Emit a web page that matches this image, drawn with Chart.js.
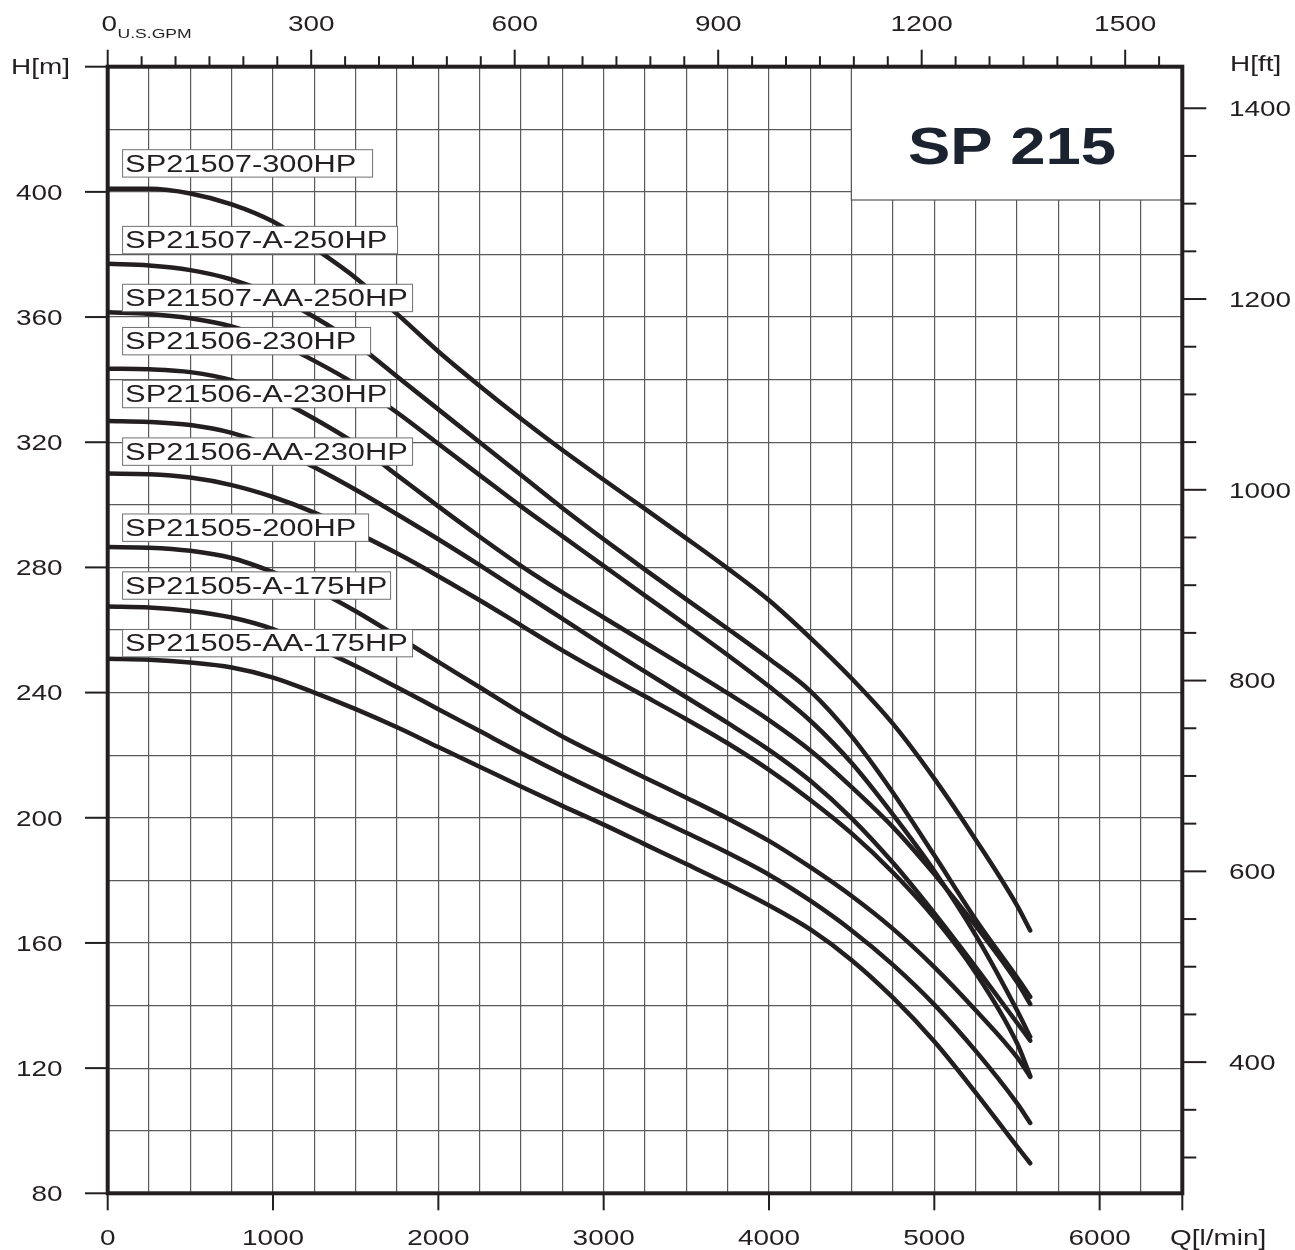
<!DOCTYPE html>
<html>
<head>
<meta charset="utf-8">
<title>SP 215</title>
<script src="https://cdn.jsdelivr.net/npm/chart.js@4/dist/chart.umd.min.js"></script>
<style>
  html, body { margin: 0; padding: 0; background: #fff; }
  #wrap { width: 1295px; height: 1250px; }
</style>
</head>
<body>
<div id="wrap"><canvas id="chart" width="1295" height="1250"></canvas></div>
<script>
// ============================================================
// SP 215 pump curves, H[m] over Q[l/min]
// ============================================================

// ── Data ────────────────────────────────────────────────────
var flowLmin = [0, 250, 500, 750, 1000, 1250, 1500, 1750, 2000, 2250, 2500, 2750,
                3000, 3250, 3500, 3750, 4000, 4250, 4500, 4750, 5000, 5250, 5500, 5580];

var hSP21507_300   = [401, 401, 399.5, 396, 390.5, 382, 372.5, 361, 349, 338, 327.5, 317.5,
                      308, 298.7, 289.3, 279.7, 269.5, 257.5, 244.5, 230, 212.5, 193, 172, 164];
var hSP21507A_250  = [377, 376.5, 375, 372, 367, 360, 351.5, 341, 330.5, 320, 309.5, 299,
                      289, 279.3, 269.8, 260.4, 250.8, 240.5, 226, 208, 188, 167.5, 149, 142.8];
var hSP21507AA_250 = [361.5, 361, 359.6, 357, 352.5, 346, 338.5, 329.5, 319.5, 309.5, 299.5, 290,
                      280.5, 271, 261.6, 252, 242, 231, 217.5, 201, 183, 162.5, 138.5, 130];
var hSP21506_230   = [343.5, 343.3, 342.4, 339.8, 334.5, 327.5, 319.5, 309.5, 299.5, 289.8, 280.5, 272,
                      264, 256, 248, 239.8, 231.2, 221.5, 209.8, 197, 182, 165.5, 147.5, 140.5];
var hSP21506A_230  = [326.8, 326.5, 325.5, 323, 318.5, 312, 304.8, 297, 289, 280.7, 272.2, 263.6,
                      255, 246.7, 238.5, 230.3, 221.7, 211.8, 199.8, 185.6, 169.5, 152.3, 134.5, 128.8];
var hSP21506AA_230 = [310, 309.8, 308.7, 306.3, 302.5, 297.5, 291.2, 284.5, 277.2, 269.5, 261.5, 253.5,
                      246, 238.8, 231.5, 223.8, 215.3, 205.7, 195, 182.5, 168, 150.5, 128, 117.5];
var hSP21505_200   = [286.5, 286.3, 285.3, 283, 278.5, 273, 266, 258, 249.8, 241.7, 233.5, 226,
                      219.3, 212.8, 206.4, 199.8, 192.6, 184.2, 175, 164.5, 152.3, 138.5, 123.5, 117.2];
var hSP21505A_175  = [267.5, 267.2, 266.1, 264, 260.3, 254.7, 248.5, 241.7, 234.7, 227.7, 220.7, 214,
                      207.6, 201.4, 195.2, 188.8, 181.8, 173.5, 164, 153, 140.3, 125.5, 108.8, 102.5];
var hSP21505AA_175 = [250.8, 250.5, 249.6, 248, 244.8, 240, 234.7, 228.9, 222.6, 216.3, 210, 203.8,
                      197.8, 191.5, 185.2, 178.8, 172, 164.3, 154.5, 142.5, 128.5, 112.2, 95, 89.6];

var modelNames = ["SP21507-300HP", "SP21507-A-250HP", "SP21507-AA-250HP",
                  "SP21506-230HP", "SP21506-A-230HP", "SP21506-AA-230HP",
                  "SP21505-200HP", "SP21505-A-175HP", "SP21505-AA-175HP"];
var headSeries = [hSP21507_300, hSP21507A_250, hSP21507AA_250,
                  hSP21506_230, hSP21506A_230, hSP21506AA_230,
                  hSP21505_200, hSP21505A_175, hSP21505AA_175];

// tick labels
var qTickLabels   = [0, 1000, 2000, 3000, 4000, 5000, 6000];
var hTickLabels   = [80, 120, 160, 200, 240, 280, 320, 360, 400];
var ftTickLabels  = [400, 600, 800, 1000, 1200, 1400];
var gpmTickLabels = [0, 300, 600, 900, 1200, 1500];

// ── Layout / style ─────────────────────────────────────────
var M_PER_FT     = 0.3048;
var LMIN_PER_GPM = 4.103;            // scale as printed on the sheet
var INK   = "#231f20";
var GRID  = "#5a5a5a";
var FONT  = '"Liberation Sans", Arial, Helvetica, sans-serif';

// label boxes: anchor head (box middle) and box width in px
var labelAt   = [409.1, 384.6, 366.1, 352.3, 335.4, 317, 292.7, 274.2, 255.8];
var labelBoxW = [250, 275, 290, 248, 268, 290, 246, 268, 290];

function stepTicks(from, to, step) {
  var t = [];
  for (var v = from; v <= to + 1e-9; v += step) t.push({ value: v });
  return t;
}

// text is drawn a bit wider than the font, like on the sheet
function wideText(ctx, txt, x, yMid, size, sx, align, color, weight) {
  ctx.save();
  ctx.translate(x, yMid + size * 0.358);
  ctx.scale(sx, 1);
  ctx.font = (weight ? weight + " " : "") + size + "px " + FONT;
  ctx.textAlign = align;
  ctx.textBaseline = "alphabetic";
  ctx.fillStyle = color;
  ctx.fillText(txt, 0, 0);
  ctx.restore();
}

function line(ctx, x1, y1, x2, y2) {
  ctx.beginPath();
  ctx.moveTo(x1, y1);
  ctx.lineTo(x2, y2);
  ctx.stroke();
}

// ── Sheet decorations: frame, ticks, labels, title ─────────
var sheetPlugin = {
  id: "sheet",
  afterDraw: function(chart) {
    var ctx = chart.ctx, a = chart.chartArea, s = chart.scales;
    ctx.save();

    // model labels
    modelNames.forEach(function(name, i) {
      var x0 = s.x.getPixelForValue(87);
      var yc = s.y.getPixelForValue(labelAt[i]);
      ctx.fillStyle = "#fff";
      ctx.fillRect(x0, yc - 13.7, labelBoxW[i], 27.4);
      ctx.strokeStyle = "#707070";
      ctx.lineWidth = 1;
      ctx.strokeRect(x0 + 0.5, yc - 13.7, labelBoxW[i], 27.4);
      wideText(ctx, name, x0 + 3, yc, 23, 1.34, "left", INK);
    });

    // title box
    var tx = s.x.getPixelForValue(4500) - 0.3;
    var tb = 200;
    ctx.fillStyle = "#fff";
    ctx.fillRect(tx, a.top, a.right - tx, tb - a.top);
    ctx.strokeStyle = "#555";
    ctx.lineWidth = 1.2;
    ctx.strokeRect(tx, a.top, a.right - tx, tb - a.top);
    wideText(ctx, "SP 215", 1012, 145.4, 52, 1.22, "center", "#1b2330", "bold");

    // frame
    ctx.strokeStyle = INK;
    ctx.lineWidth = 4;
    ctx.strokeRect(a.left, a.top, a.right - a.left, a.bottom - a.top);

    ctx.lineWidth = 2;
    // bottom: Q[l/min]
    qTickLabels.forEach(function(q) {
      var x = s.x.getPixelForValue(q);
      line(ctx, x, a.bottom, x, a.bottom + 17);
      wideText(ctx, String(q), x, 1237.5, 22, 1.27, "center", INK);
    });
    line(ctx, a.right, a.bottom, a.right, a.bottom + 17);
    wideText(ctx, "Q[l/min]", 1170, 1236.7, 22, 1.27, "left", INK);

    // left: H[m]
    hTickLabels.concat([440]).forEach(function(h) {
      var y = s.y.getPixelForValue(h);
      line(ctx, 85, y, a.left, y);
      if (h < 440) wideText(ctx, String(h), 62.5, y, 22, 1.27, "right", INK);
    });
    wideText(ctx, "H[m]", 70, 66, 22, 1.27, "right", INK);

    // right: H[ft]
    s.yFt.ticks.forEach(function(t) {
      var y = s.yFt.getPixelForValue(t.value);
      var major = ftTickLabels.indexOf(t.value) >= 0;
      line(ctx, a.right, y, a.right + (major ? 24 : 14), y);
      if (major) wideText(ctx, String(t.value), 1229, y, 22, 1.27, "left", INK);
    });
    wideText(ctx, "H[ft]", 1230, 63.3, 22, 1.27, "left", INK);

    // top: U.S.GPM
    s.xTop.ticks.forEach(function(t) {
      var x = s.xTop.getPixelForValue(t.value);
      var major = gpmTickLabels.indexOf(t.value) >= 0;
      line(ctx, x, a.top, x, a.top - (major ? 17 : 10.5));
    });
    gpmTickLabels.forEach(function(g) {
      var x = s.xTop.getPixelForValue(g);
      wideText(ctx, String(g), g === 0 ? x + 1.5 : x, 22.8, 22, 1.27, "center", INK);
    });
    wideText(ctx, "U.S.GPM", 117.5, 33, 13, 1.35, "left", INK);

    ctx.restore();
  }
};

// ── Chart ───────────────────────────────────────────────────
var datasets = headSeries.map(function(h, i) {
  return {
    label: modelNames[i],
    data: flowLmin.map(function(q, k) { return { x: q, y: h[k] }; }),
    borderColor: INK,
    borderWidth: 4.5,
    borderCapStyle: "round",
    borderJoinStyle: "round",
    pointRadius: 0,
    cubicInterpolationMode: "monotone",
    fill: false
  };
});

var hidden = { display: false };

new Chart(document.getElementById("chart"), {
  type: "line",
  data: { datasets: datasets },
  options: {
    responsive: false,
    animation: false,
    events: [],
    layout: { padding: 0 },
    plugins: { legend: hidden, tooltip: { enabled: false } },
    scales: {
      x: {
        type: "linear", position: "bottom", min: 0, max: 6500,
        afterBuildTicks: function(sc) { sc.ticks = stepTicks(0, 6500, 250); },
        afterFit: function(sc) { sc.height = 1250 - 1193.3; },
        grid: { color: GRID, lineWidth: 1.2, drawTicks: false },
        border: hidden,
        ticks: hidden
      },
      xTop: {
        type: "linear", position: "top", min: 0, max: 6500 / LMIN_PER_GPM,
        afterBuildTicks: function(sc) { sc.ticks = stepTicks(0, 1550, 50); },
        afterFit: function(sc) { sc.height = 66.7; },
        grid: hidden,
        border: hidden,
        ticks: hidden
      },
      y: {
        type: "linear", position: "left", min: 80, max: 440,
        afterBuildTicks: function(sc) { sc.ticks = stepTicks(80, 440, 20); },
        afterFit: function(sc) { sc.width = 107.7; },
        grid: { color: GRID, lineWidth: 1.2, drawTicks: false },
        border: hidden,
        ticks: hidden
      },
      yFt: {
        type: "linear", position: "right", min: 80 / M_PER_FT, max: 440 / M_PER_FT,
        afterBuildTicks: function(sc) { sc.ticks = stepTicks(300, 1400, 50); },
        afterFit: function(sc) { sc.width = 1295 - 1182.3; },
        grid: hidden,
        border: hidden,
        ticks: hidden
      }
    }
  },
  plugins: [sheetPlugin]
});
</script>
</body>
</html>
